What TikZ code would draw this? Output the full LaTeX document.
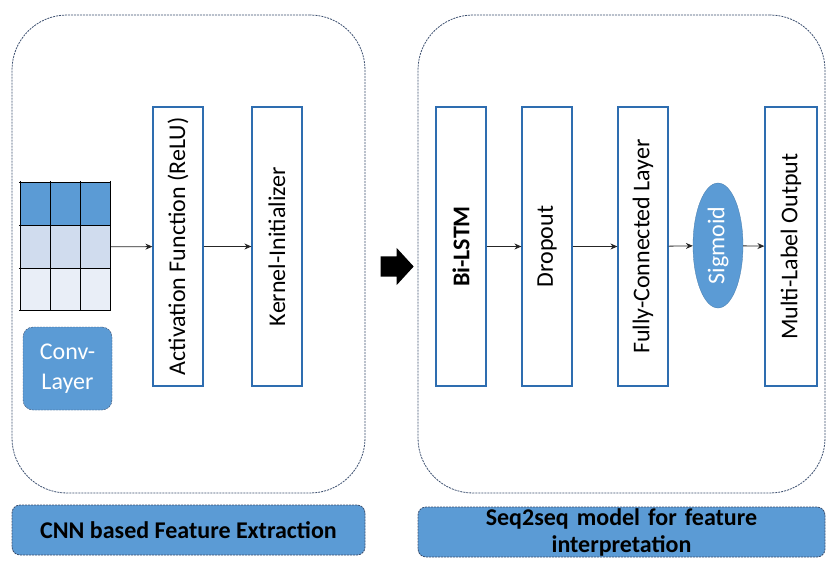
\documentclass[tikz,border=0pt]{standalone}
\usepackage{fontspec}
\setmainfont{Carlito}
\usepackage{xcolor}
\usetikzlibrary{shapes,arrows,positioning,calc,arrows.meta}
\definecolor{cellblue}{HTML}{5B9BD5}
\definecolor{cellmid}{HTML}{D0DCEE}
\definecolor{celllight}{HTML}{E9EEF7}
\definecolor{boxline}{HTML}{2E6DB0}
\definecolor{dashline}{HTML}{3B4E6E}

\begin{document}
\begin{tikzpicture}[x=1pt, y=-1pt,
    layer/.style={rectangle, draw=boxline, line width=1.2pt, fill=white, rotate=90,
        minimum width=279pt, minimum height=50pt, inner sep=0pt,
        font=\fontsize{24}{27}\selectfont},
    panel/.style={rectangle, rounded corners=55pt, draw=dashline, dash pattern=on 2pt off 1pt,
        line width=0.8pt, inner sep=0pt},
    caption/.style={rectangle, rounded corners=8pt, draw=dashline, dash pattern=on 2pt off 1pt,
        line width=0.8pt, fill=cellblue, inner sep=0pt, font=\fontsize{24}{27}\selectfont\bfseries,
        align=center},
    link/.style={->, line width=0.8pt, draw=black!85},
    >={Stealth[length=7pt, width=6pt]}]
    \useasboundingbox (0,0) rectangle (830,563);

    % Panels
    \node[panel, minimum width=353pt, minimum height=478pt] (cnnpanel) at (188.5,254) {};
    \node[panel, minimum width=407pt, minimum height=478pt] (seqpanel) at (621.5,254) {};

    % Captions
    \node[caption, minimum width=353pt, minimum height=50pt] (cnncap) at (188.5,530) {CNN based Feature Extraction};
    \node[caption, minimum width=407pt, minimum height=50pt, text width=400pt] (seqcap) at (621.5,532)
        {Seq2seq model for feature\\interpretation};

    % Input grid
    \node[minimum width=90pt, minimum height=128pt, inner sep=0pt] (grid) at (66,247) {};
    \fill[cellblue] (grid.north west) rectangle ++(90,42.7);
    \fill[cellmid] ($(grid.north west)+(0,42.7)$) rectangle ++(90,42.7);
    \fill[celllight] ($(grid.north west)+(0,85.4)$) rectangle ++(90,42.6);
    \foreach \i in {0,1,2,3} {
        \draw[line width=1.1pt] ($(grid.north west)+(\i*30,-2)$) -- ++(0,130);
        \draw[line width=1.1pt] ($(grid.north west)+(-2,\i*42.67)$) -- ++(92,0);
    }
    \node[rectangle, rounded corners=10pt, draw=dashline, dash pattern=on 2pt off 1pt, fill=cellblue,
        text=white, minimum width=89pt, minimum height=83pt, align=center,
        font=\fontsize{24}{30}\selectfont] (conv) at (67.5,368.5) {Conv-\\Layer};

    % CNN layers
    \node[layer] (act) at (178,246.5) {Activation Function (ReLU)};
    \node[layer] (kern) at (277,246.5) {Kernel-Initializer};
    \draw[link] (grid) -- (act);
    \draw[link] (act) -- (kern);

    % Transition arrow
    \node[single arrow, fill=black, draw=none, minimum height=33pt, text height=0pt, text depth=0pt,
        inner xsep=0pt, inner ysep=10pt, single arrow head extend=8.5pt,
        single arrow tip angle=95] (bigarrow) at (392.5,266.5) {};

    % Seq2seq layers
    \node[layer, font=\fontsize{24}{27}\selectfont\bfseries] (bilstm) at (461,246.5) {Bi-LSTM};
    \node[layer] (drop) at (547,246.5) {Dropout};
    \node[layer] (fc) at (643,246.5) {Fully-Connected Layer};
    \node[ellipse, fill=cellblue, draw=cellblue!80!black, line width=0.3pt, minimum width=50pt,
        minimum height=125pt, inner sep=0pt, text=white] (sigmoid) at (718,245.5)
        {\rotatebox{90}{\fontsize{24}{27}\selectfont Sigmoid}};
    \node[layer, minimum height=52pt] (multi) at (791,246.5) {Multi-Label Output};
    \draw[link] (bilstm) -- (drop);
    \draw[link] (drop) -- (fc);
    \draw[link] (fc) -- (sigmoid);
    \draw[link] (sigmoid) -- (multi);
\end{tikzpicture}
\end{document}
